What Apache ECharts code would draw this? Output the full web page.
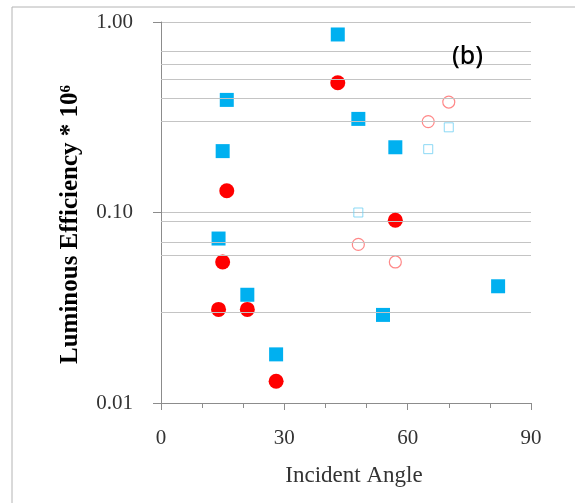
<!DOCTYPE html>
<html>
<head>
<meta charset="utf-8">
<script src="https://cdn.jsdelivr.net/npm/echarts@6/dist/echarts.min.js"></script>
<style>
  html, body { margin: 0; padding: 0; background: #fff; }
  #chart { width: 575px; height: 503px; }
</style>
</head>
<body>
<div id="chart"></div>
<script>
// [incident angle, luminous efficiency * 1e6]
const blueFilled = [
  [43, 0.86], [16, 0.39], [15, 0.21], [48, 0.31], [57, 0.22],
  [14, 0.073], [21, 0.037], [28, 0.018], [54, 0.029], [82, 0.041]
];
const redFilled = [
  [43, 0.48], [16, 0.13], [57, 0.091], [15, 0.055],
  [14, 0.031], [21, 0.031], [28, 0.013]
];
const redOpen = [[70, 0.38], [65, 0.30], [48, 0.068], [57, 0.055]];
const blueOpen = [[70, 0.28], [65, 0.215], [48, 0.10]];
// horizontal grid lines that are visible in the picture
const gridValues = [0.7, 0.6, 0.5, 0.4, 0.3, 0.09, 0.07, 0.06, 0.03];
const yTickLabels = { 1: '1.00', 0.1: '0.10', 0.01: '0.01' };

const chart = echarts.init(document.getElementById('chart'));
const serif = 'Liberation Serif';
const axisGray = '#8c8c8c';

chart.setOption({
  animation: false,
  backgroundColor: '#fff',
  title: {
    text: '(b)',
    left: 447, top: 39,
    textStyle: { fontFamily: 'Noto Sans', fontSize: 25, fontWeight: 500, color: '#000' }
  },
  graphic: [{
    type: 'rect',
    shape: { x: 12, y: 7, width: 620, height: 620 },
    style: { fill: 'none', stroke: '#b4b4b4', lineWidth: 1 },
    silent: true
  }],
  grid: { left: 161, right: 44, top: 22, bottom: 100 },
  xAxis: {
    type: 'value',
    min: 0, max: 90, interval: 30,
    name: 'Incident Angle',
    nameLocation: 'middle',
    nameGap: 61,
    nameTextStyle: { fontFamily: serif, fontSize: 23, color: '#333', padding: [0, 0, 0, 16] },
    axisLine: { show: true, lineStyle: { color: axisGray, width: 1 } },
    axisTick: { show: true, length: 7, lineStyle: { color: axisGray } },
    minorTick: { show: true, splitNumber: 3, length: 5, lineStyle: { color: axisGray } },
    axisLabel: { fontFamily: serif, fontSize: 21, color: '#333', margin: 25 },
    splitLine: { show: false }
  },
  yAxis: {
    type: 'log',
    logBase: 10,
    min: 0.01, max: 1,
    name: 'Luminous Efficiency * 10\u2076',
    nameLocation: 'middle',
    nameGap: 78,
    nameRotate: 90,
    nameTextStyle: { fontFamily: serif, fontSize: 25, fontWeight: 'bold', color: '#000', padding: [0, 24, 0, 0] },
    axisLine: { show: true, lineStyle: { color: axisGray, width: 1 } },
    axisTick: { show: true, length: 8, lineStyle: { color: axisGray } },
    axisLabel: {
      fontFamily: serif, fontSize: 21, color: '#333', margin: 28,
      formatter: v => yTickLabels[+v.toPrecision(3)] || ''
    },
    splitLine: { show: true, lineStyle: { color: '#c4c4c4', width: 1 } }
  },
  series: [
    {
      name: 'grid',
      type: 'scatter',
      data: [],
      silent: true,
      markLine: {
        silent: true,
        symbol: 'none',
        label: { show: false },
        lineStyle: { color: '#c4c4c4', width: 1, type: 'solid' },
        data: gridValues.map(v => ({ yAxis: v }))
      }
    },
    {
      name: 'open blue',
      type: 'scatter',
      data: blueOpen,
      symbol: 'rect',
      symbolSize: 9,
      itemStyle: { color: 'rgba(0,0,0,0)', borderColor: '#6fcff2', borderWidth: 1 }
    },
    {
      name: 'open red',
      type: 'scatter',
      data: redOpen,
      symbol: 'circle',
      symbolSize: 12,
      itemStyle: { color: 'rgba(0,0,0,0)', borderColor: '#ff6a6a', borderWidth: 1.2 }
    },
    {
      name: 'blue',
      type: 'scatter',
      data: blueFilled,
      symbol: 'rect',
      symbolSize: 14,
      itemStyle: { color: '#00b0f0', opacity: 1 }
    },
    {
      name: 'red',
      type: 'scatter',
      data: redFilled,
      symbol: 'circle',
      symbolSize: 15,
      itemStyle: { color: '#ff0000', opacity: 1 }
    }
  ]
});
</script>
</body>
</html>
